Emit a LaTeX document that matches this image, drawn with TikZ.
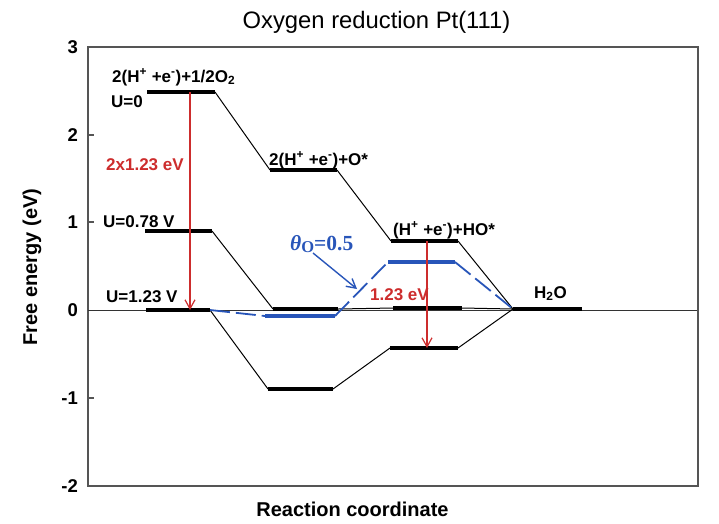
\documentclass[tikz,border=0pt]{standalone}
\usepackage{fontspec}
\setmainfont{Liberation Sans}
\newfontfamily\serifTimes{Liberation Serif}
\usetikzlibrary{arrows.meta}
\definecolor{redc}{RGB}{205,45,45}
\definecolor{bluec}{RGB}{40,85,185}
\definecolor{framec}{RGB}{85,85,85}
\begin{document}
\begin{tikzpicture}[x=1pt,y=-1pt,
  level/.style={line width=4pt, black},
  bluelevel/.style={line width=4pt, bluec},
  conn/.style={line width=1pt, black},
  bluedash/.style={line width=1.8pt, bluec, dash pattern=on 20pt off 6pt},
  redarrow/.style={line width=1.2pt, redc, -{Straight Barb[length=9pt,width=10pt,line width=1.2pt]}},
  bluearrow/.style={line width=1.4pt, bluec, -{Straight Barb[length=9pt,width=10pt,line width=1.4pt]}},
  lab/.style={font=\bfseries\fontsize{17}{17}\selectfont, inner sep=0pt, anchor=base west},
  ticklab/.style={font=\bfseries\fontsize{18.5}{18.5}\selectfont, anchor=east, inner sep=0pt},
  axlab/.style={font=\bfseries\fontsize{20}{20}\selectfont, inner sep=0pt},
]
\useasboundingbox (0,0) rectangle (719,523);
% frame and ticks
\draw[framec, line width=1.5pt] (88,47) rectangle (698,486);
\foreach \yy in {135,222,398} \draw[framec, line width=1.2pt] (88,\yy) -- (94,\yy);
\node[ticklab] (y3) at (78,47) {3};
\node[ticklab] (y2) at (78,135) {2};
\node[ticklab] (y1) at (78,222) {1};
\node[ticklab] (y0) at (78,310) {0};
\node[ticklab] (ym1) at (78,398) {-1};
\node[ticklab] (ym2) at (78,486) {-2};
\node[axlab, rotate=90] (ylab) at (32,267) {Free energy (eV)};
\node[axlab, anchor=base] (xlab) at (352.5,516.5) {Reaction coordinate};
\node[font=\fontsize{23.8}{23.8}\selectfont, inner sep=0pt, anchor=base] (title) at (376.5,28.5) {Oxygen reduction Pt(111)};
% zero line
\coordinate (z0) at (88,310);
\coordinate (z1) at (697,310);
\draw[line width=0.8pt, black!80] (z0) -- (z1);
% level end points
\coordinate (A1l) at (147,92);  \coordinate (A1r) at (215,92);
\coordinate (A2l) at (270,170); \coordinate (A2r) at (337,170);
\coordinate (A3l) at (391,241); \coordinate (A3r) at (458,241);
\coordinate (Wl) at (513,309);  \coordinate (Wr) at (582,309);
\coordinate (B1l) at (145,231); \coordinate (B1r) at (212,231);
\coordinate (B2l) at (273,309); \coordinate (B2r) at (338,309);
\coordinate (B3l) at (393,308); \coordinate (B3r) at (462,308);
\coordinate (C1l) at (146,310); \coordinate (C1r) at (210,310);
\coordinate (C2l) at (268,389); \coordinate (C2r) at (333,389);
\coordinate (C3l) at (390,348); \coordinate (C3r) at (458,348);
\coordinate (D2l) at (265,316); \coordinate (D2r) at (335,316);
\coordinate (D3l) at (388,262); \coordinate (D3r) at (455,262);
% connectors
\draw[conn] (A1r) -- (A2l); \draw[conn] (A2r) -- (A3l); \draw[conn] (A3r) -- (Wl);
\draw[conn] (B1r) -- (B2l); \draw[conn] (B2r) -- (B3l); \draw[conn] (B3r) -- (Wl);
\draw[conn] (C1r) -- (C2l); \draw[conn] (C2r) -- (C3l); \draw[conn] (C3r) -- (Wl);
% blue path
\draw[bluedash] (C1r) -- (D2l);
\draw[bluedash] (D2r) -- (D3l);
\draw[bluedash] (D3r) -- (Wl);
\draw[bluelevel] (D2l) -- (D2r);
\draw[bluelevel] (D3l) -- (D3r);
% black levels
\draw[level] (A1l) -- (A1r); \draw[level] (A2l) -- (A2r); \draw[level] (A3l) -- (A3r);
\draw[level] (Wl) -- (Wr);
\draw[level] (B1l) -- (B1r); \draw[level] (B2l) -- (B2r); \draw[level] (B3l) -- (B3r);
\draw[level] (C1l) -- (C1r); \draw[level] (C2l) -- (C2r); \draw[level] (C3l) -- (C3r);
% red arrows
\coordinate (r1s) at (190,92);  \coordinate (r1e) at (190,310);
\coordinate (r2s) at (427,241); \coordinate (r2e) at (427,348);
\draw[redarrow] (r1s) -- (r1e);
\draw[redarrow] (r2s) -- (r2e);
% theta arrow
\coordinate (ths) at (313,253); \coordinate (the) at (357,289);
\draw[bluearrow] (ths) -- (the);
% labels
\node[lab] (tA1) at (112,82) {2(H\textsuperscript{+} +e\textsuperscript{-})+1/2O\textsubscript{2}};
\node[lab] (tU0) at (111,107) {U=0};
\node[lab, text=redc] (t2x) at (106,170) {2x1.23 eV};
\node[lab] (tA2) at (269,165) {2(H\textsuperscript{+} +e\textsuperscript{-})+O*};
\node[lab] (tU78) at (103,227) {U=0.78 V};
\node[lab] (tU123) at (106,302) {U=1.23 V};
\node[lab] (tA3) at (393,235) {(H\textsuperscript{+} +e\textsuperscript{-})+HO*};
\node[lab, text=redc] (t123) at (370,300) {1.23 eV};
\node[lab] (tW) at (534,298) {H\textsubscript{2}O};
\node[inner sep=0pt, anchor=base west, text=bluec, font=\serifTimes\bfseries\fontsize{21.5}{21.5}\selectfont] (ttheta) at (290,250) {{\itshape θ}\raisebox{-0.3ex}{\fontsize{16.5}{16.5}\selectfont O}=0.5};
\end{tikzpicture}
\end{document}
